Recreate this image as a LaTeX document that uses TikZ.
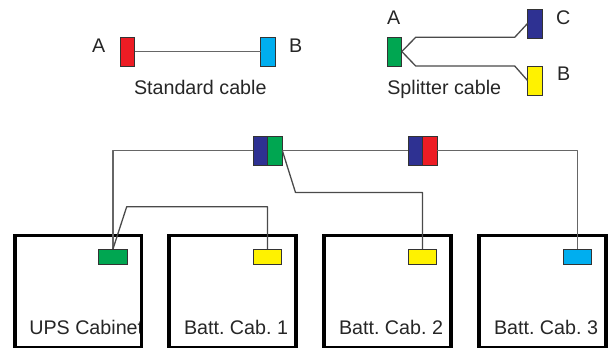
\documentclass[tikz,border=0pt]{standalone}
\usepackage{fontspec}
\setmainfont{Liberation Sans}
\definecolor{cred}{HTML}{ED1C24}
\definecolor{cblue}{HTML}{00AEEF}
\definecolor{cgreen}{HTML}{00A651}
\definecolor{cnavy}{HTML}{2E3192}
\definecolor{cyel}{HTML}{FFF200}
\definecolor{wire}{HTML}{4A4A4A}
\tikzset{
  conn/.style={draw=black!80,line width=1bp,inner sep=0,outer sep=0,anchor=north west},
  vconn/.style={conn,minimum width=14.5bp,minimum height=29bp},
  hconn/.style={conn,minimum width=28.5bp,minimum height=15bp},
  cabinet/.style={draw=black,line width=3.4bp,inner sep=0,outer sep=0,anchor=north west,minimum height=112.5bp},
  wirel/.style={draw=wire,line width=1.3bp,line join=round},
  wiregray/.style={draw=black!60,line width=1.6bp,line join=round},
  lbl/.style={inner sep=0,outer sep=0,anchor=base west,font=\fontsize{19.7bp}{24bp}\selectfont\frenchspacing,text=black!85}
}
\begin{document}
\begin{tikzpicture}[x=1bp,y=-1bp]
\useasboundingbox (0,0) rectangle (608,347);
% cabinet captions (first caption is cut off by its frame)
\begin{scope}
\clip (0,230) rectangle (140,347);
\node[lbl] (tups) at (29.3,334) {UPS Cabinet};
\end{scope}
\node[lbl] (t1) at (184,334) {Batt. Cab. 1};
\node[lbl] (t2) at (339,334) {Batt. Cab. 2};
\node[lbl] (t3) at (494,334) {Batt. Cab. 3};
% cabinets
\node[cabinet,minimum width=126.5bp] (ups) at (15,235.5) {};
\node[cabinet,minimum width=127bp] (bc1) at (169,235.5) {};
\node[cabinet,minimum width=127bp] (bc2) at (324,235.5) {};
\node[cabinet,minimum width=127bp] (bc3) at (479,235.5) {};
% sockets
\node[hconn,fill=cgreen] (sups) at (98.7,249) {};
\node[hconn,fill=cyel] (s1) at (253.3,249) {};
\node[hconn,fill=cyel] (s2) at (408.3,249) {};
\node[hconn,fill=cblue] (s3) at (563.2,249) {};
% standard cable legend
\node[vconn,fill=cred] (la) at (120,37) {};
\node[vconn,fill=cblue] (lb) at (260.5,37) {};
\draw[wiregray] (la) -- (lb);
\node[lbl] (ta) at (92,52) {A};
\node[lbl] (tb) at (289,52) {B};
\node[lbl] (ts) at (134,94.5) {Standard cable};
% splitter cable legend
\node[vconn,fill=cgreen] (sa) at (387.3,37) {};
\node[vconn,fill=cnavy] (sc) at (527.5,9) {};
\node[vconn,fill=cyel] (sb) at (527.5,66) {};
\draw[wirel] (sa.east) -- (415.7,37.3) -- (514.7,37.3) -- (sc.west);
\draw[wirel] (sa.east) -- (415.7,66) -- (514.7,66) -- (sb.west);
\node[lbl] (tsa) at (387,24) {A};
\node[lbl] (tsc) at (556,24) {C};
\node[lbl] (tsb) at (557,80) {B};
\node[lbl] (tss) at (387.3,94.5) {Splitter cable};
% main wiring
\node[vconn,fill=cnavy] (m1) at (253.3,136) {};
\node[vconn,fill=cgreen] (m2) at (267.8,136) {};
\node[vconn,fill=cnavy] (m3) at (408.3,136) {};
\node[vconn,fill=cred] (m4) at (422.5,136) {};
\draw[wiregray] (m1.west) -- (m1.west -| sups.north) -- (sups.north);
\draw[wiregray] (m2.east) -- (m3.west);
\draw[wiregray] (m4.east) -- (m4.east -| s3.north) -- (s3.north);
\draw[wirel] (m2.east) -- (295.5,192.5) -- (295.5,192.5 -| s2.north) -- (s2.north);
\draw[wirel] (sups.north) -- (126.7,206.7) -- (126.7,206.7 -| s1.north) -- (s1.north);
\end{tikzpicture}
\end{document}
